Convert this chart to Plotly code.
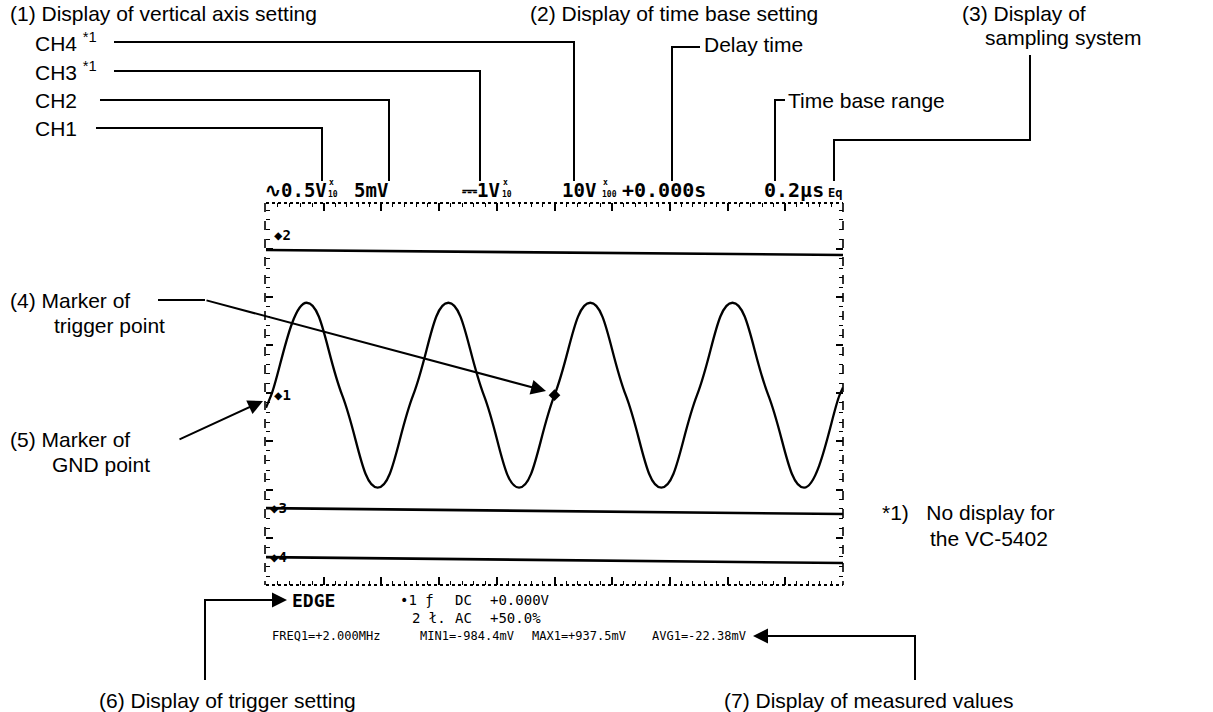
import plotly.graph_objects as go

# ---------------- data ----------------
# CH1 waveform: extrema and zero crossings, time in microseconds, value in volts
wave_time_us = [0.0, 0.018, 0.141, 0.264, 0.387, 0.510, 0.632, 0.755, 0.877,
                1.000, 1.124, 1.247, 1.370, 1.494, 1.617, 1.741, 1.865, 1.988, 2.0]
wave_ch1_v = [-0.15, -0.02, 0.94, -0.02, -0.98, -0.02, 0.94, -0.02, -0.98,
              -0.02, 0.94, -0.02, -0.98, -0.02, 0.94, -0.02, -0.98, -0.02, 0.06]
# flat traces of the other channels (display position on the CH1 scale)
line_time_us = [0.0, 2.0]
ch2_pos = [1.488, 1.436]
ch3_pos = [-1.193, -1.255]
ch4_pos = [-1.702, -1.764]
trigger_time_us = [1.0]
trigger_level_v = [-0.02]

# screen readouts
vert_settings = ["∿0.5V", "5mV", "⎓1V", "10V"]
probe_factor = ["10", "", "10", "100"]
time_settings = ["+0.000s", "0.2µs"]
sampling_mode = "Eq"
trig_row1 = ["•1 ƒ", "DC", "+0.000V"]
trig_row2 = ["2 ł.", "AC", "+50.0%"]
measured = ["FREQ1=+2.000MHz", "MIN1=-984.4mV", "MAX1=+937.5mV", "AVG1=-22.38mV"]
channel_names = ["CH4 <sup>*1</sup>", "CH3 <sup>*1</sup>", "CH2", "CH1"]

# ---------------- layout helpers ----------------
W, H = 1213, 712
LABEL = "Liberation Sans"
MONO = "DejaVu Sans Mono"
SX0, SX1, SY0, SY1 = 266, 843, 203, 585   # scope screen box (px)
LS = 21                                   # label font size


def X(px):
    return px / W


def Y(py):
    return 1 - py / H


def T(s, px, py, size=LS, family=LABEL, anchor="left", yanchor="middle"):
    return dict(text=s, x=X(px), y=Y(py), xref="paper", yref="paper",
                xanchor=anchor, yanchor=yanchor, showarrow=False,
                font=dict(family=family, size=size, color="black"))


def P(points, width=2, dash="solid"):
    d = "M " + " L ".join(f"{X(a):.5f},{Y(b):.5f}" for a, b in points)
    return dict(type="path", path=d, xref="paper", yref="paper",
                line=dict(color="black", width=width, dash=dash))


def A(tip, tail, size=1.5):
    return dict(text="", x=X(tip[0]), y=Y(tip[1]), xref="paper", yref="paper",
                ax=tail[0] - tip[0], ay=tail[1] - tip[1], axref="pixel", ayref="pixel",
                showarrow=True, arrowhead=2, arrowsize=size, arrowwidth=2,
                arrowcolor="black", standoff=0, font=dict(size=10))


fig = go.Figure()
fig.add_trace(go.Scatter(x=wave_time_us, y=wave_ch1_v, mode="lines",
                         line=dict(color="black", width=2.3, shape="spline", smoothing=1.3)))
for pos in (ch2_pos, ch3_pos, ch4_pos):
    fig.add_trace(go.Scatter(x=line_time_us, y=pos, mode="lines",
                             line=dict(color="black", width=2.6)))
fig.add_trace(go.Scatter(x=trigger_time_us, y=trigger_level_v, mode="markers",
                         marker=dict(symbol="diamond", size=9, color="black")))

ann = []
shapes = []

# --- top labels ---
ann.append(T("(1) Display of vertical axis setting", 8, 14))
ann.append(T("(2) Display of time base setting", 528, 14))
ann.append(T("(3) Display of", 960, 14))
ann.append(T("sampling system", 983, 38))
ch_y = [42, 71, 100, 128]
ch_line_start = [114, 114, 100, 96]
ch_drop_x = [574, 480, 389, 322]
for name, y, x0, xd in zip(channel_names, ch_y, ch_line_start, ch_drop_x):
    ann.append(T(name, 33, y))
    shapes.append(P([(x0, y), (xd, y), (xd, 181)]))

# delay time / time base range / sampling system leaders
shapes.append(P([(672, 181), (672, 47), (700, 47)]))
ann.append(T("Delay time", 702, 45))
shapes.append(P([(775, 181), (775, 100), (785, 100)]))
ann.append(T("Time base range", 786, 100))
shapes.append(P([(834, 181), (834, 140), (1030, 140), (1030, 55)]))

# --- screen readout row ---
FS = 19
CW = 11.44
vx = [263, 352, 460, 560]
for s, x, pf in zip(vert_settings, vx, probe_factor):
    ann.append(T("<b>" + s + "</b>", x, 190, size=FS, family=MONO))
    if pf:
        xe = x + len(s) * CW + 6
        ann.append(T("<b>x</b>", xe + 1, 182, size=8, family=MONO))
        ann.append(T("<b>" + pf + "</b>", xe, 194, size=8, family=MONO))
ann.append(T("<b>" + time_settings[0] + "</b>", 620, 190, size=FS + 1, family=MONO))
ann.append(T("<b>" + time_settings[1] + "</b>", 762, 190, size=FS + 1, family=MONO))
ann.append(T("<b>" + sampling_mode + "</b>", 826, 193, size=12, family=MONO))

# channel markers on screen
ann.append(T("<b>◆2</b>", 272, 235, size=14, family=MONO))
ann.append(T("<b>◆1</b>", 272, 395, size=14, family=MONO))
ann.append(T("<b>◆3</b>", 268, 508, size=14, family=MONO))
ann.append(T("<b>◆4</b>", 268, 557, size=14, family=MONO))

# --- left annotations ---
ann.append(T("(4) Marker of", 8, 300))
ann.append(T("trigger point", 52, 325))
shapes.append(P([(158, 300), (205, 300)]))
ann.append(A((546, 391), (205, 300)))
ann.append(T("(5) Marker of", 8, 440))
ann.append(T("GND point", 50, 465))
ann.append(A((263, 401), (178, 440)))

# --- right note ---
ann.append(T("*1)   No display for", 880, 512))
ann.append(T("the VC-5402", 928, 538))

# --- bottom readouts ---
ann.append(T("<b>EDGE</b>", 290, 600, size=18, family=MONO))
for s, x in zip(trig_row1, [398, 453, 488]):
    ann.append(T(s, x, 600, size=14, family=MONO))
for s, x in zip(trig_row2, [410, 453, 488]):
    ann.append(T(s, x, 618, size=14, family=MONO))
for s, x in zip(measured, [270, 418, 530, 650]):
    ann.append(T(s, x, 636, size=12, family=MONO))

shapes.append(P([(205, 680), (205, 600), (240, 600)]))
ann.append(A((287, 600), (205, 600)))
ann.append(T("(6) Display of trigger setting", 97, 700))
shapes.append(P([(915, 680), (915, 636), (820, 636)]))
ann.append(A((753, 636), (915, 636)))
ann.append(T("(7) Display of measured values", 722, 700))

# --- screen frame (dotted rulers) ---
shapes.append(P([(SX0, SY0), (SX1, SY0)], width=2, dash="dot"))
shapes.append(P([(SX0, SY1), (SX1, SY1)], width=2, dash="dot"))
shapes.append(P([(SX0 - 1, SY0), (SX0 - 1, SY1)], width=1.6, dash="dash"))
shapes.append(P([(SX1, SY0), (SX1, SY1)], width=1.6, dash="dash"))

fig.update_layout(
    width=W, height=H, margin=dict(l=0, r=0, t=0, b=0),
    paper_bgcolor="white", plot_bgcolor="white", showlegend=False,
    annotations=ann, shapes=shapes,
    xaxis=dict(domain=[X(SX0), X(SX1)], range=[0, 2.0], showgrid=False, zeroline=False,
               showticklabels=False, ticks="inside", ticklen=8, tickwidth=1.5,
               tickcolor="black", dtick=0.2, tick0=0, mirror="ticks", showline=False,
               minor=dict(ticks="inside", ticklen=4, dtick=0.04, tickwidth=1.2,
                          tickcolor="black", showgrid=False)),
    yaxis=dict(domain=[Y(SY1), Y(SY0)], range=[-1.992, 1.976], showgrid=False,
               zeroline=False, showticklabels=False, ticks="inside", ticklen=7,
               tickwidth=1.5, tickcolor="black", dtick=0.5, tick0=0, mirror="ticks",
               showline=False,
               minor=dict(ticks="inside", ticklen=4, dtick=0.1, tickwidth=1.2,
                          tickcolor="black", showgrid=False)),
)

fig.write_html("out.html", config={"displayModeBar": False},
               post_script="document.body.style.margin='0';")
